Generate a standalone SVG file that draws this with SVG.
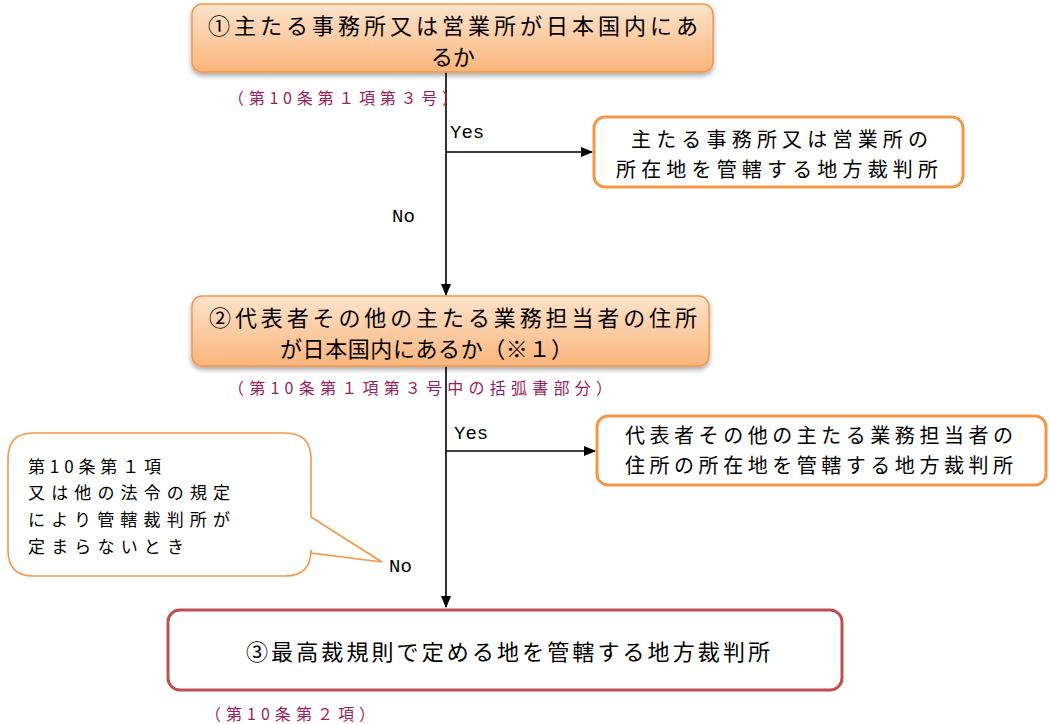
<svg xmlns="http://www.w3.org/2000/svg" width="1049" height="724" viewBox="0 0 1049 724">
<style>
.jp{font-family:"Noto Sans CJK JP","Noto Sans",sans-serif;fill:#000}
.lbl{font-family:"Noto Sans CJK JP","Noto Sans",sans-serif;fill:#9c1c5c;font-size:16px}
.yn{font-family:"Liberation Mono","DejaVu Sans Mono",monospace;fill:#000;font-size:19px}
.dec{fill:url(#og);stroke:#f79646;stroke-width:1.5}
.res{fill:#fff;stroke:#f79646;stroke-width:3}
.fin{fill:#fff;stroke:#c0504d;stroke-width:3}
.conn{stroke:#000;stroke-width:1.6;fill:none}
</style>
<defs>
<linearGradient id="og" x1="0" y1="0" x2="0" y2="1">
<stop offset="0" stop-color="#fde3cc"/>
<stop offset="1" stop-color="#fbb57c"/>
</linearGradient>
<filter id="sh" x="-5%" y="-20%" width="110%" height="150%">
<feGaussianBlur in="SourceAlpha" stdDeviation="2.5"/>
<feOffset dx="0" dy="3" result="b"/>
<feComponentTransfer><feFuncA type="linear" slope="0.35"/></feComponentTransfer>
<feMerge><feMergeNode/><feMergeNode in="SourceGraphic"/></feMerge>
</filter>
<marker id="ah" markerWidth="12" markerHeight="10" refX="11" refY="5" orient="auto" markerUnits="userSpaceOnUse">
<path d="M0,0 L12,5 L0,10 z" fill="#000"/>
</marker>
</defs>

<g id="connectors">
<line class="conn" x1="446" y1="72" x2="446" y2="295" marker-end="url(#ah)"/>
<line class="conn" x1="446" y1="152" x2="592" y2="152" marker-end="url(#ah)"/>
<line class="conn" x1="446" y1="366" x2="446" y2="607" marker-end="url(#ah)"/>
<line class="conn" x1="446" y1="451" x2="595" y2="451" marker-end="url(#ah)"/>
<text class="yn" x="450" y="138">Yes</text>
<text class="yn" x="392" y="222">No</text>
<text class="yn" x="454" y="439">Yes</text>
<text class="yn" x="389" y="572">No</text>
</g>

<g id="q1">
<rect class="dec" x="192" y="4" width="521" height="68" rx="10" filter="url(#sh)"/>
<text class="jp" font-size="22"><tspan x="208" y="33.5" textLength="490" lengthAdjust="spacing">①主たる事務所又は営業所が日本国内にあ</tspan><tspan x="453" y="64.5" text-anchor="middle">るか</tspan></text>
<text class="lbl" x="228" y="104" textLength="230" lengthAdjust="spacing">（第10条第１項第３号）</text>
</g>

<g id="r1">
<rect class="res" x="594" y="117" width="369" height="70" rx="11"/>
<text class="jp" font-size="20"><tspan x="631" y="147" textLength="297" lengthAdjust="spacing">主たる事務所又は営業所の</tspan><tspan x="616" y="177" textLength="322" lengthAdjust="spacing">所在地を管轄する地方裁判所</tspan></text>
</g>

<g id="q2">
<rect class="dec" x="192" y="296" width="517" height="70" rx="10" filter="url(#sh)"/>
<text class="jp" font-size="22"><tspan x="209" y="326" textLength="488" lengthAdjust="spacing">②代表者その他の主たる業務担当者の住所</tspan><tspan x="280" y="357" textLength="293" lengthAdjust="spacing">が日本国内にあるか（※１）</tspan></text>
<text class="lbl" x="228" y="394" textLength="384" lengthAdjust="spacing">（第10条第１項第３号中の括弧書部分）</text>
</g>

<g id="r2">
<rect class="res" x="597" y="416" width="449" height="69" rx="11"/>
<text class="jp" font-size="20"><tspan x="625" y="443" textLength="388" lengthAdjust="spacing">代表者その他の主たる業務担当者の</tspan><tspan x="625" y="473" textLength="388" lengthAdjust="spacing">住所の所在地を管轄する地方裁判所</tspan></text>
</g>

<g id="note">
<path d="M33,433 H285 Q311,433 311,459 V517 L382,562 L311,553 V550 Q311,576 285,576 H33 Q8,576 8,550 V459 Q8,433 33,433 Z" fill="#fff" stroke="#f79646" stroke-width="1.6"/>
<text class="jp" font-size="17"><tspan x="28" y="473" textLength="133" lengthAdjust="spacing">第10条第１項</tspan><tspan x="28" y="499" textLength="202" lengthAdjust="spacing">又は他の法令の規定</tspan><tspan x="28" y="526" textLength="202" lengthAdjust="spacing">により管轄裁判所が</tspan><tspan x="28" y="553" textLength="156" lengthAdjust="spacing">定まらないとき</tspan></text>
</g>

<g id="r3">
<rect class="fin" x="168" y="610" width="674" height="80" rx="12"/>
<text class="jp" font-size="22" x="246" y="660" textLength="524" lengthAdjust="spacing">③最高裁規則で定める地を管轄する地方裁判所</text>
<text class="lbl" x="205" y="720" textLength="170" lengthAdjust="spacing">（第10条第２項）</text>
</g>
</svg>
